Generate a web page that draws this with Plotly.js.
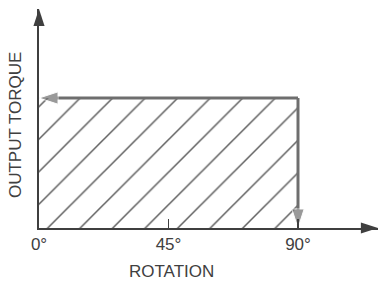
<!DOCTYPE html>
<html>
<head>
<meta charset="utf-8">
<script src="https://cdn.plot.ly/plotly-3.0.1.min.js"></script>
<style>html,body{margin:0;padding:0;background:#fff;}#chart{width:380px;height:282px;}</style>
</head>
<body>
<div id="chart"></div>
<script>
// Data
const rotation = [0, 90];            // degrees
const torque = [1, 1];               // constant output torque (relative)
const tickVals = [0, 45, 90];
const tickText = ['0°', '45°', '90°'];
const xTitle = 'ROTATION';
const yTitle = 'OUTPUT TORQUE';
const xMax = 117.8;                  // end of rotation axis arrow
const yMax = 1.685;                  // end of torque axis arrow

const axisColor = '#3f3f3f';
const rectColor = '#6e6e6e';
const textColor = '#404040';
const font = 'Liberation Sans, Arial, sans-serif';

const traces = [
  // hatched area under constant torque
  {
    x: rotation, y: torque, type: 'scatter', mode: 'lines',
    fill: 'tozeroy', fillcolor: 'rgba(255,255,255,0)',
    fillpattern: {shape: '/', size: 23, solidity: 0.065, fgcolor: '#5e5e5e', bgcolor: '#ffffff'},
    line: {width: 0}, hoverinfo: 'skip', showlegend: false
  },
  // top edge: arrow pointing back to 0°
  {
    x: [rotation[1], rotation[0]], y: [torque[1], torque[0]], type: 'scatter', mode: 'lines+markers',
    line: {color: rectColor, width: 3},
    marker: {symbol: 'arrow', angleref: 'previous', size: [0, 20], color: rectColor},
    cliponaxis: false, hoverinfo: 'skip', showlegend: false
  },
  // right edge: arrow pointing down at 90°
  {
    x: [rotation[1], rotation[1]], y: [torque[1], 0], type: 'scatter', mode: 'lines+markers',
    line: {color: rectColor, width: 3},
    marker: {symbol: 'arrow', angleref: 'previous', size: [0, 20], color: rectColor},
    cliponaxis: false, hoverinfo: 'skip', showlegend: false
  },
  // axis arrowheads
  {
    x: [xMax, 0], y: [0, yMax], type: 'scatter', mode: 'markers',
    marker: {symbol: 'arrow', angle: [90, 0], size: 18, color: axisColor},
    cliponaxis: false, hoverinfo: 'skip', showlegend: false
  }
];

const layout = {
  width: 380, height: 282,
  margin: {l: 39, r: 2, t: 9, b: 54},
  paper_bgcolor: '#ffffff', plot_bgcolor: '#ffffff',
  font: {family: font, size: 17, color: textColor},
  showlegend: false,
  xaxis: {
    range: [0, xMax], showgrid: false, zeroline: false,
    showline: true, linecolor: axisColor, linewidth: 2,
    tickmode: 'array', tickvals: tickVals, ticktext: tickText,
    ticks: 'inside', ticklen: 9, tickwidth: 1.5, tickcolor: axisColor,
    tickfont: {family: font, size: 17, color: textColor},
    fixedrange: true
  },
  yaxis: {
    range: [0, yMax], showgrid: false, zeroline: false,
    showline: true, linecolor: axisColor, linewidth: 2,
    showticklabels: false, ticks: '', fixedrange: true
  },
  annotations: [
    {text: xTitle, xref: 'x', x: 45, xshift: 3, yref: 'paper', y: 0, yshift: -43,
     yanchor: 'middle', xanchor: 'center', showarrow: false,
     font: {family: font, size: 17, color: textColor}},
    {text: yTitle, xref: 'paper', x: 0, xshift: -24, yref: 'paper', y: 0.47,
     textangle: -90, xanchor: 'center', yanchor: 'middle', showarrow: false,
     font: {family: font, size: 17, color: textColor}}
  ]
};

Plotly.newPlot('chart', traces, layout, {displayModeBar: false, staticPlot: true});
</script>
</body>
</html>
